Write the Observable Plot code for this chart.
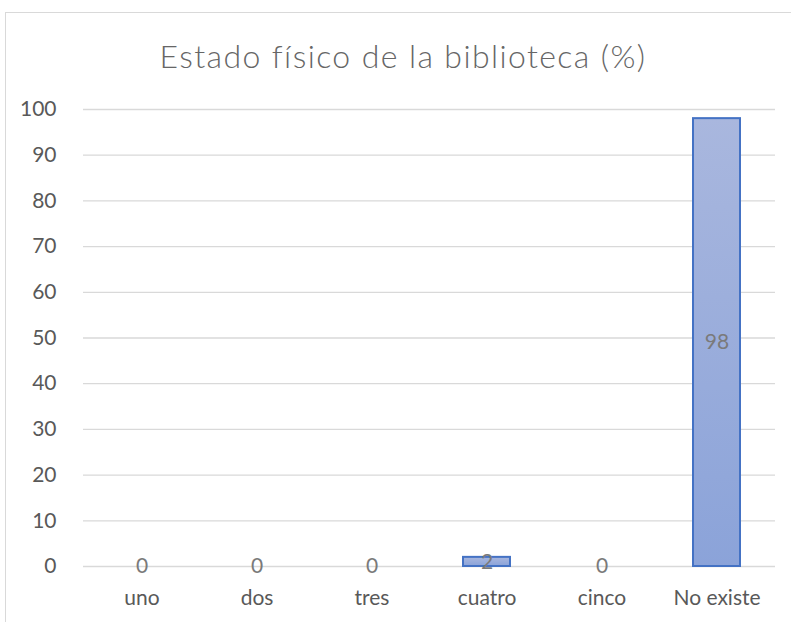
<!DOCTYPE html>
<html>
<head>
<meta charset="utf-8">
<script src="https://cdn.jsdelivr.net/npm/d3@7"></script>
<script src="https://cdn.jsdelivr.net/npm/@observablehq/plot@0.6"></script>
<style>
  html, body { margin: 0; padding: 0; background: #fff; overflow: hidden; }
  #wrap { position: relative; width: 791px; height: 622px; overflow: hidden; font-family: Lato, "Open Sans", sans-serif; }
  #frame { position: absolute; left: 5px; top: 12px; width: 900px; height: 900px; border: 1px solid #d9d9d9; box-sizing: border-box; }
  #title { position: absolute; left: 0; top: 11px; width: 806px; height: 90px; line-height: 90px; text-align: center; font-size: 32px; font-weight: 300; letter-spacing: 1.4px; color: #666666; white-space: nowrap; }
  #chart { position: absolute; left: 0; top: 90px; }
</style>
</head>
<body>
<div id="wrap">
  <div id="frame"></div>
  <div id="title">Estado físico de la biblioteca (%)</div>
  <div id="chart"></div>
</div>
<script>
const categories = ["uno", "dos", "tres", "cuatro", "cinco", "No existe"];
const values = [0, 0, 0, 2, 0, 98];
const yTicks = [0, 10, 20, 30, 40, 50, 60, 70, 80, 90, 100];

const data = categories.map((c, i) => ({cat: c, value: values[i]}));

const chart = Plot.plot({
  width: 791,
  height: 532,
  marginLeft: 83,
  marginRight: 16,
  marginTop: 19,
  marginBottom: 56,
  style: {fontFamily: "Lato, 'Open Sans', sans-serif", fontSize: "21px", color: "#595959", background: "transparent"},
  x: {domain: categories, paddingInner: 0.59, paddingOuter: 0.295, label: null},
  y: {domain: [0, 100], label: null},
  marks: [
    Plot.ruleY(yTicks, {stroke: "#d9d9d9", strokeWidth: 1.3, strokeOpacity: 1}),
    Plot.axisY(yTicks, {tickSize: 0, tickPadding: 27, label: null, fill: "#595959", fontSize: 21}),
    Plot.axisX({tickSize: 0, tickPadding: 24, label: null, fill: "#595959", fontSize: 21}),
    Plot.barY(data.filter(d => d.value > 0), {x: "cat", y: "value", fill: "url(#barGrad)", stroke: "#4472c4", strokeWidth: 2}),
    Plot.text(data, {x: "cat", y: d => d.value / 2, text: d => String(d.value), fill: "#7a7a7a", fontSize: 21})
  ]
});

const ns = "http://www.w3.org/2000/svg";
const defs = document.createElementNS(ns, "defs");
defs.innerHTML = '<linearGradient id="barGrad" x1="0" y1="0" x2="0" y2="1"><stop offset="0" stop-color="#a9b7de"/><stop offset="1" stop-color="#8ba3d9"/></linearGradient>';
chart.insertBefore(defs, chart.firstChild);
document.getElementById("chart").appendChild(chart);
</script>
</body>
</html>
